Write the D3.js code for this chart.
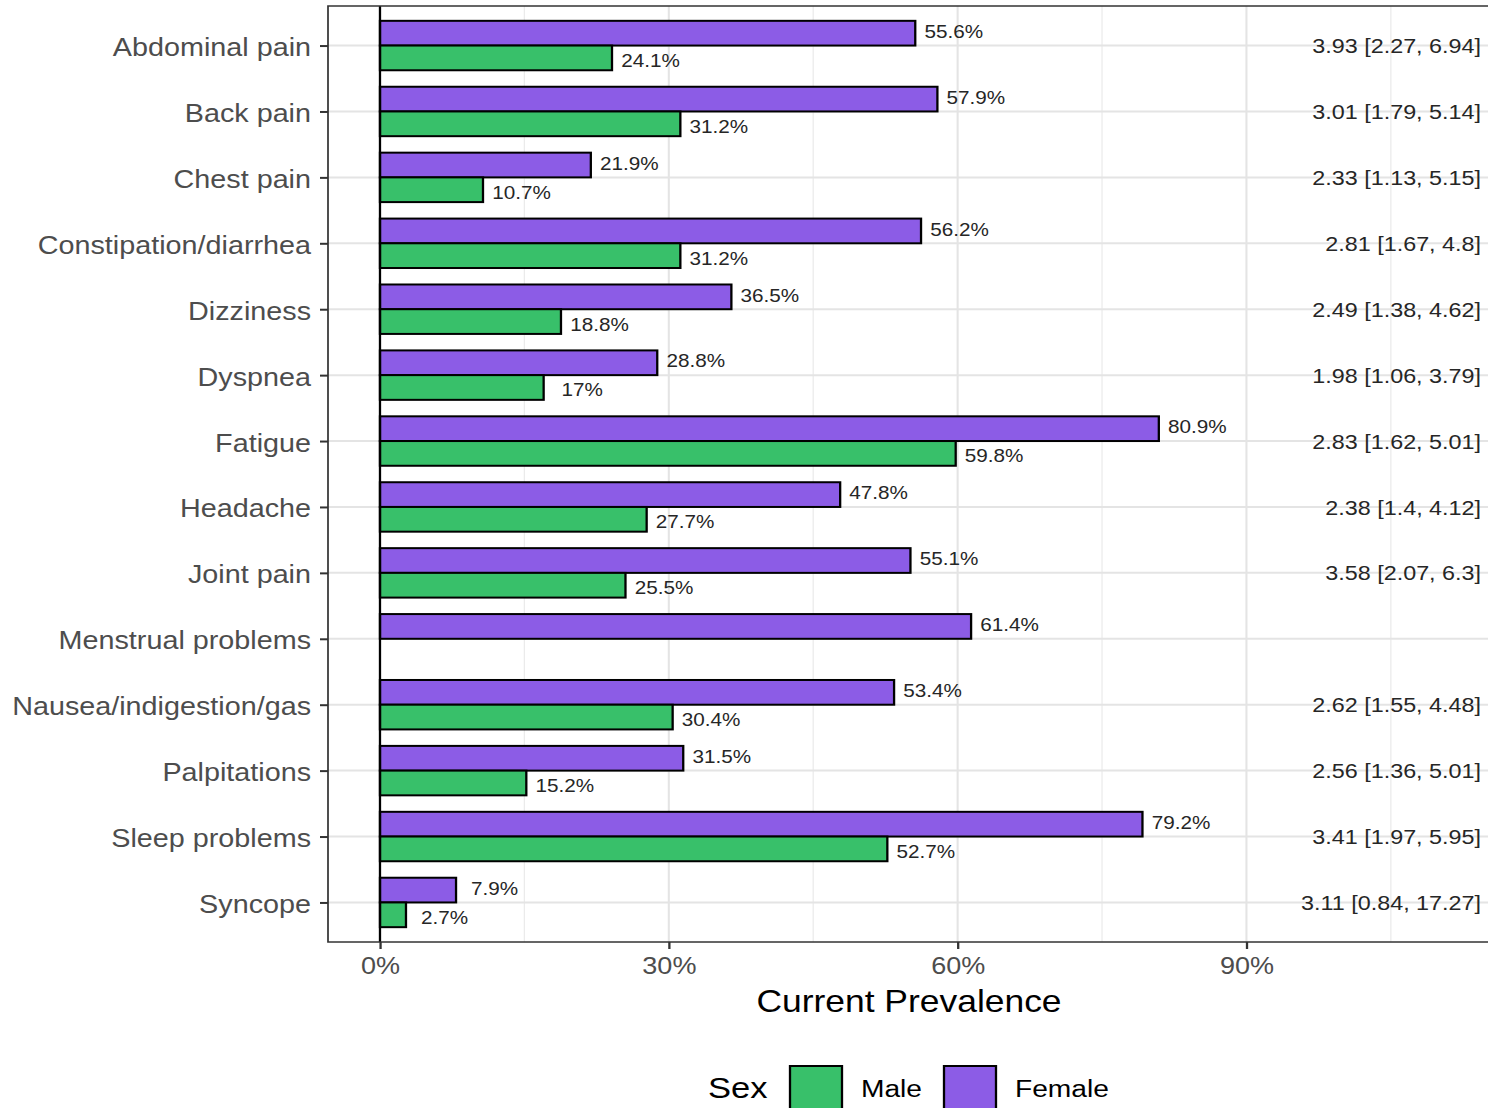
<!DOCTYPE html>
<html>
<head>
<meta charset="utf-8">
<script src="https://cdn.jsdelivr.net/npm/d3@7"></script>
<style>
  body { margin: 0; background: #fff; }
  svg { display: block; font-family: "Liberation Sans", Arial, sans-serif; }
</style>
</head>
<body>
<svg id="chart" width="1488" height="1108"></svg>
<script>
'use strict';

const SYMPTOMS = [
    'Abdominal pain', 'Back pain', 'Chest pain', 'Constipation/diarrhea',
    'Dizziness', 'Dyspnea', 'Fatigue', 'Headache', 'Joint pain',
    'Menstrual problems', 'Nausea/indigestion/gas', 'Palpitations',
    'Sleep problems', 'Syncope',
];
const FEMALE = [55.6, 57.9, 21.9, 56.2, 36.5, 28.8, 80.9, 47.8, 55.1, 61.4, 53.4, 31.5, 79.2, 7.9];
const MALE = [24.1, 31.2, 10.7, 31.2, 18.8, 17, 59.8, 27.7, 25.5, null, 30.4, 15.2, 52.7, 2.7];
const ODDS = [
    '3.93 [2.27, 6.94]', '3.01 [1.79, 5.14]', '2.33 [1.13, 5.15]', '2.81 [1.67, 4.8]',
    '2.49 [1.38, 4.62]', '1.98 [1.06, 3.79]', '2.83 [1.62, 5.01]', '2.38 [1.4, 4.12]',
    '3.58 [2.07, 6.3]', '', '2.62 [1.55, 4.48]', '2.56 [1.36, 5.01]',
    '3.41 [1.97, 5.95]', '3.11 [0.84, 17.27]',
];
const MAJOR_TICKS = [0, 30, 60, 90];
const MINOR_TICKS = [15, 45, 75, 105];
const SEXES = ['Male', 'Female'];

const COLORS = { Male: '#38c06a', Female: '#8c5ce6' };
// the source image is a little stretched sideways, so draw in a squeezed frame
const SX = 1.15;
const sx = (px) => px / SX;
const PANEL = { left: 328, right: 1490, top: 6, bottom: 942 };

const svg = d3.select('#chart');
const root = svg.append('g').attr('transform', `scale(${SX},1)`);

const x = d3.scaleLinear().domain([-5.4, 115.3]).range([sx(PANEL.left), sx(PANEL.right)]);
const y = d3.scalePoint().domain(SYMPTOMS).range([PANEL.top, PANEL.bottom]).padding(0.6);
const barH = y.step() * 0.375;

// gridlines
const grid = root.append('g');
grid.selectAll('.minor').data(MINOR_TICKS).join('line')
    .attr('x1', (d) => x(d)).attr('x2', (d) => x(d))
    .attr('y1', PANEL.top).attr('y2', PANEL.bottom)
    .attr('stroke', '#ebebeb').attr('stroke-width', 1.1);
grid.selectAll('.major').data(MAJOR_TICKS).join('line')
    .attr('x1', (d) => x(d)).attr('x2', (d) => x(d))
    .attr('y1', PANEL.top).attr('y2', PANEL.bottom)
    .attr('stroke', '#e4e4e4').attr('stroke-width', 1.8);
grid.selectAll('.hgrid').data(SYMPTOMS).join('line')
    .attr('x1', x.range()[0]).attr('x2', x.range()[1])
    .attr('y1', (d) => y(d)).attr('y2', (d) => y(d))
    .attr('stroke', '#e4e4e4').attr('stroke-width', 2);

// bars
const rows = SYMPTOMS.map((s, i) => ({ s, f: FEMALE[i], m: MALE[i], or: ODDS[i] }));

root.append('g').selectAll('rect').data(rows).join('rect')
    .attr('x', x(0)).attr('y', (d) => y(d.s) - barH)
    .attr('width', (d) => x(d.f) - x(0)).attr('height', barH)
    .attr('fill', COLORS.Female).attr('stroke', '#000').attr('stroke-width', 2);

root.append('g').selectAll('rect').data(rows.filter((d) => d.m !== null)).join('rect')
    .attr('x', x(0)).attr('y', (d) => y(d.s))
    .attr('width', (d) => x(d.m) - x(0)).attr('height', barH)
    .attr('fill', COLORS.Male).attr('stroke', '#000').attr('stroke-width', 2);

// value labels
const labels = root.append('g').attr('font-size', 18).attr('fill', '#262626').attr('text-anchor', 'middle');
labels.selectAll('.fl').data(rows).join('text')
    .attr('x', (d) => x(d.f + 4)).attr('y', (d) => y(d.s) - 14)
    .attr('dy', '0.35em').text((d) => `${d.f}%`);
labels.selectAll('.ml').data(rows.filter((d) => d.m !== null)).join('text')
    .attr('x', (d) => x(d.m + 4)).attr('y', (d) => y(d.s) + 15)
    .attr('dy', '0.35em').text((d) => `${d.m}%`);

// odds ratio text
root.append('g').selectAll('text').data(rows).join('text')
    .attr('x', sx(1481)).attr('y', (d) => y(d.s) + 0.5).attr('dy', '0.35em')
    .attr('text-anchor', 'end').attr('font-size', 20.3).attr('fill', '#262626')
    .text((d) => d.or);

// zero line
root.append('line')
    .attr('x1', x(0)).attr('x2', x(0))
    .attr('y1', PANEL.top).attr('y2', PANEL.bottom)
    .attr('stroke', '#000').attr('stroke-width', 2);

// panel border
root.append('rect')
    .attr('x', x.range()[0]).attr('y', PANEL.top)
    .attr('width', x.range()[1] - x.range()[0]).attr('height', PANEL.bottom - PANEL.top)
    .attr('fill', 'none').attr('stroke', '#333').attr('stroke-width', 1.5);

// axes
const yAxis = root.append('g')
    .attr('transform', `translate(${x.range()[0]},0)`)
    .call(d3.axisLeft(y).tickSize(sx(8)).tickPadding(sx(9)));
const xAxis = root.append('g')
    .attr('transform', `translate(0,${PANEL.bottom})`)
    .call(d3.axisBottom(x).tickValues(MAJOR_TICKS).tickFormat((d) => `${d}%`).tickSize(7).tickPadding(8));

[yAxis, xAxis].forEach((ax) => {
    ax.select('.domain').remove();
    ax.selectAll('line').attr('stroke', '#333').attr('stroke-width', 2);
    ax.selectAll('text').attr('fill', '#4d4d4d').attr('font-family', null);
});
yAxis.selectAll('text').attr('font-size', 25).attr('dy', '0.4em');
xAxis.selectAll('text').attr('font-size', 23.5);

// axis title
root.append('text')
    .attr('x', sx((PANEL.left + PANEL.right) / 2)).attr('y', 1012)
    .attr('text-anchor', 'middle').attr('font-size', 30.8).attr('fill', '#000')
    .text('Current Prevalence');

// legend
const legend = root.append('g');
legend.append('text').attr('x', sx(708)).attr('y', 1088).attr('dy', '0.35em')
    .attr('font-size', 30).attr('fill', '#000').text('Sex');
const keyX = d3.scaleOrdinal().domain(SEXES).range([sx(790), sx(944)]);
legend.selectAll('rect').data(SEXES).join('rect')
    .attr('x', (d) => keyX(d)).attr('y', 1066)
    .attr('width', sx(52)).attr('height', 52)
    .attr('fill', (d) => COLORS[d]).attr('stroke', '#000').attr('stroke-width', 2);
legend.selectAll('.lab').data(SEXES).join('text')
    .attr('x', (d) => keyX(d) + sx(71)).attr('y', 1088).attr('dy', '0.35em')
    .attr('font-size', 24.5).attr('fill', '#000').text((d) => d);
</script>
</body>
</html>
